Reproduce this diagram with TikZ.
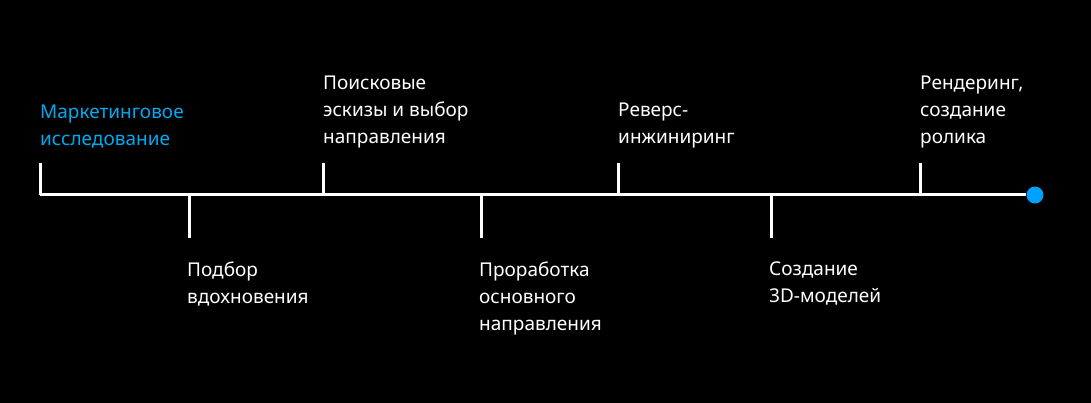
\documentclass[tikz,border=0pt]{standalone}
\usepackage{fontspec}
\setmainfont{Noto Sans}
\begin{document}
\begin{tikzpicture}[x=1pt,y=-1pt,
  ln/.style={white,line width=3pt},
  lab/.style={text=white,align=left,inner sep=0pt,font=\fontsize{19}{27}\selectfont},
  up/.style={lab,anchor=south west},
  dn/.style={lab,anchor=north west}]
\fill[black] (0,0) rectangle (1091,403);
\useasboundingbox (0,0) rectangle (1091,403);
\coordinate (s) at (40,195);
\node[circle,fill={rgb,255:red,0;green,160;blue,255},minimum size=17pt,inner sep=0pt] (e) at (1035,195) {};
\draw[ln] (s) -- (e.west);
\foreach \n/\x in {a/40,c/323,e2/618,g/920}{
  \coordinate (\n b) at (\x,195); \coordinate (\n t) at (\x,163);
  \draw[ln] (\n b) -- (\n t);}
\foreach \n/\x in {b/189,d/481,f/771}{
  \coordinate (\n b) at (\x,195); \coordinate (\n t) at (\x,238);
  \draw[ln] (\n b) -- (\n t);}
\node[up,text={rgb,255:red,0;green,170;blue,240}] (la) at (40,148) {Маркетинговое\\исследование};
\node[up] (lc) at (323,148) {Поисковые\\эскизы и выбор\\направления};
\node[up] (le) at (618,148) {Реверс-\\инжиниринг};
\node[up] (lg) at (920,148) {Рендеринг,\\создание\\ролика};
\node[dn] (lb) at (187,262) {Подбор\\вдохновения};
\node[dn] (ld) at (479,262) {Проработка\\основного\\направления};
\node[dn] (lf) at (769,262) {Создание\\3D-моделей};
\end{tikzpicture}
\end{document}
